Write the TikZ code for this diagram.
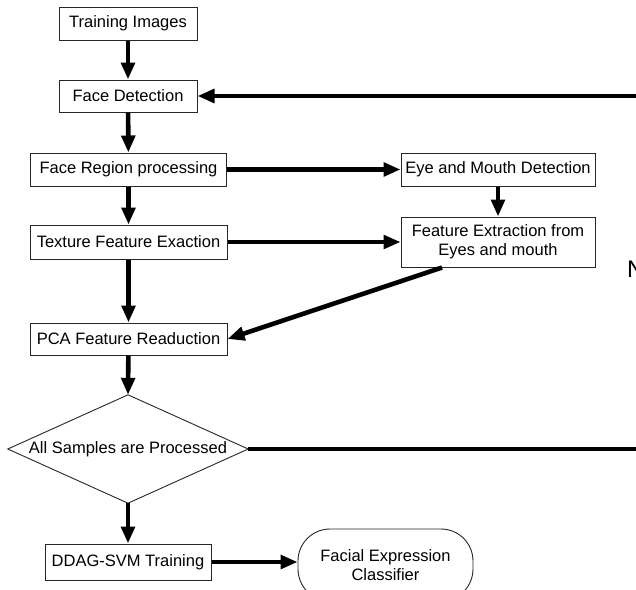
\documentclass[tikz,border=0pt]{standalone}
\usepackage{fontspec}
\setmainfont{Liberation Sans}
\usetikzlibrary{arrows.meta}
\begin{document}
\begin{tikzpicture}[x=1pt,y=-1pt,
  font=\fontsize{16.5}{19}\selectfont,
  box/.style={draw=black!85, line width=1pt, fill=white, inner sep=0pt, align=center},
  arr/.style={line width=4.6pt, -{Triangle[length=17pt,width=13.5pt]}},
  thinarr/.style={line width=4pt, -{Triangle[length=17pt,width=13.5pt]}},
  plain/.style={line width=4.6pt}]
\useasboundingbox (0,0) rectangle (636,589);
\fill[white] (0,0) rectangle (636,589);
% nodes
\node[box, minimum width=138pt, minimum height=33pt] (train) at (128,23.5) {Training Images};
\node[box, minimum width=138pt, minimum height=32pt] (fd) at (128,96) {Face Detection};
\node[box, minimum width=196pt, minimum height=33pt] (frp) at (128.5,169.5) {Face Region processing};
\node[box, minimum width=197pt, minimum height=34pt] (tfe) at (128.5,242) {Texture Feature Exaction};
\node[box, minimum width=197pt, minimum height=32pt] (pca) at (128.5,339) {PCA Feature Readuction};
\node[inner sep=0pt, minimum width=240pt, minimum height=108pt] (dia) at (128,449) {All Samples are Processed};
\draw[black!85, line width=0.9pt] (dia.west) -- (dia.north) -- (dia.east) -- (dia.south) -- cycle;
\node[box, minimum width=166pt, minimum height=36pt] (ddag) at (128,562) {DDAG-SVM Training};
\node[box, minimum width=194pt, minimum height=33pt] (em) at (498,169.5) {Eye and Mouth Detection};
\node[box, minimum width=194pt, minimum height=50pt] (fe) at (498,242) {Feature Extraction from\\Eyes and mouth};
\node[box, minimum width=175pt, minimum height=72pt, rounded corners=32pt, line width=0.9pt] (term) at (385.5,565) {Facial Expression\\Classifier};
\node[anchor=base west, inner sep=0pt, font=\fontsize{24}{28}\selectfont] (no) at (627,277) {N};
% free ends at the right edge
\coordinate (loopR) at (640,96);
\coordinate (diaR) at (640,449);
% connectors
\draw[arr] (train) -- (fd);
\draw[arr] (fd) -- (frp);
\draw[arr] (frp) -- (tfe);
\draw[arr] (tfe) -- (pca);
\draw[arr] (pca) -- (dia.north);
\draw[arr] (dia.south) -- (ddag);
\draw[arr] (frp) -- (em);
\draw[thinarr] (tfe) -- (fe);
\draw[arr] (em) -- (fe);
\draw[arr] ([xshift=-56pt]fe.south) -- (pca.east);
\draw[arr] (loopR) -- (fd.east);
\draw[plain] (dia.east) -- (diaR);
\draw[arr] (ddag.east) -- (ddag.east -| term.west);
\end{tikzpicture}
\end{document}
